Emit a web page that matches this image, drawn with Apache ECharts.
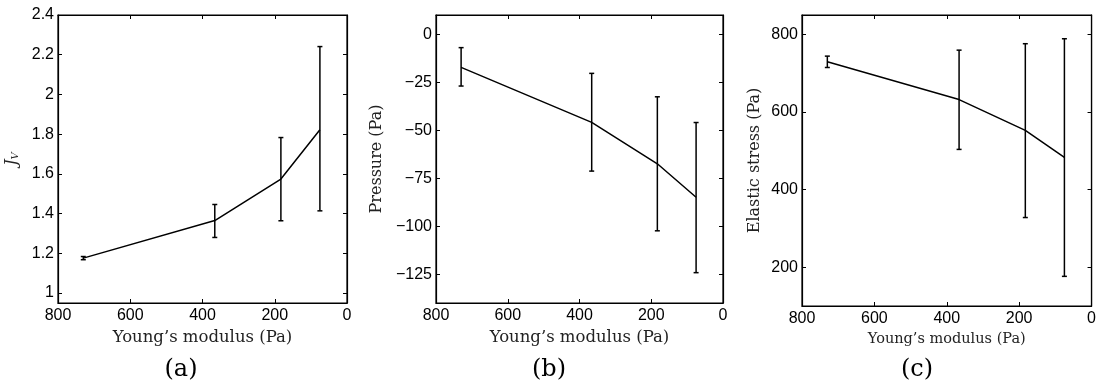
<!DOCTYPE html>
<html>
<head>
<meta charset="utf-8">
<script src="https://cdn.jsdelivr.net/npm/echarts@6/dist/echarts.min.js"></script>
<style>
html,body{margin:0;padding:0;background:#fff;}
#chart{width:1099px;height:389px;}
</style>
</head>
<body>
<div id="chart"></div>
<script>
// ---- data ----
const modulus = [730, 366, 183, 75];
const jvMean = [1.176, 1.365, 1.574, 1.822];
const jvLow  = [1.168, 1.280, 1.364, 1.414];
const jvHigh = [1.184, 1.446, 1.783, 2.241];
const pMean = [-17.3, -45.9, -67.5, -84.9];
const pLow  = [-27.0, -71.3, -102.4, -124.2];
const pHigh = [-7.0, -20.4, -32.6, -46.0];
const sMean = [729.5, 632, 552.7, 482.9];
const sLow  = [714.7, 503.6, 328, 176.4];
const sHigh = [744, 759.4, 776, 788.8];
const xTicks = [0, 200, 400, 600, 800];
const jvTicks = [1, 1.2, 1.4, 1.6, 1.8, 2, 2.2, 2.4];
const pTicks = [0, -25, -50, -75, -100, -125];
const sTicks = [200, 400, 600, 800];
const xTitle = 'Young\u2019s modulus (Pa)';
const panelLabels = ['(a)', '(b)', '(c)'];

const sans = 'Liberation Sans';
const serif = 'DejaVu Serif';

const grids = [
  {left: 58, top: 15, width: 289, height: 288},
  {left: 436, top: 15, width: 287, height: 288},
  {left: 802, top: 15, width: 290, height: 291}
];

const xAxes = [], yAxes = [];
function addAxes(g, yMin, yMax, yT, yName, yGap, xNameSize, yNameSize, xGap) {
  const tick = {show: true, inside: true, length: 4, lineStyle: {color: '#000', width: 1}};
  const line = {show: true, onZero: false, lineStyle: {color: '#000', width: 1.2}};
  xAxes.push({
    type: 'value', gridIndex: g, min: 0, max: 800, interval: 200, inverse: true,
    position: 'bottom', axisLine: line, axisTick: tick, splitLine: {show: false},
    axisLabel: {color: '#000', fontSize: 16, fontFamily: sans, margin: 5},
    name: xTitle, nameLocation: 'middle', nameGap: xGap,
    nameTextStyle: {color: '#222', fontSize: xNameSize, fontFamily: serif}
  });
  xAxes.push({
    type: 'value', gridIndex: g, min: 0, max: 800, interval: 200, inverse: true,
    position: 'top', axisLine: line, axisTick: tick, splitLine: {show: false},
    axisLabel: {show: false}
  });
  yAxes.push({
    type: 'value', gridIndex: g, min: yMin, max: yMax, position: 'left',
    axisLine: line, axisTick: Object.assign({customValues: yT}, tick), splitLine: {show: false},
    axisLabel: {customValues: yT, color: '#000', fontSize: 16, fontFamily: sans, margin: 4,
      formatter: v => String(v).replace('-', '\u2212')},
    name: yName, nameLocation: 'middle', nameGap: yGap,
    nameTextStyle: {color: '#222', fontSize: yNameSize, fontFamily: serif,
      rich: {j: {fontStyle: 'italic', fontSize: yNameSize + 1, fontFamily: serif, color: '#222'},
             s: {fontStyle: 'italic', fontSize: yNameSize - 5, fontFamily: serif, color: '#222', verticalAlign: 'bottom', padding: [6, 0, 0, 0]}}}
  });
  yAxes.push({
    type: 'value', gridIndex: g, min: yMin, max: yMax, position: 'right',
    axisLine: line, axisTick: Object.assign({customValues: yT}, tick), splitLine: {show: false},
    axisLabel: {show: false}
  });
}
addAxes(0, 0.95, 2.4, jvTicks, '{j|J}{s|V}', 38, 16.5, 15, 20);
addAxes(1, -140, 10, pTicks, 'Pressure (Pa)', 51, 16.5, 16, 20);
addAxes(2, 100, 850, sTicks, 'Elastic stress (Pa)', 39, 14.5, 16, 21);

function errRender(params, api) {
  const x = api.value(0), lo = api.value(1), hi = api.value(2);
  const a = api.coord([x, lo]), b = api.coord([x, hi]);
  const w = 2.5;
  const st = {stroke: '#000', lineWidth: 1.5};
  return {type: 'group', children: [
    {type: 'line', shape: {x1: a[0], y1: a[1], x2: b[0], y2: b[1]}, style: st},
    {type: 'line', shape: {x1: a[0] - w, y1: a[1], x2: a[0] + w, y2: a[1]}, style: st},
    {type: 'line', shape: {x1: b[0] - w, y1: b[1], x2: b[0] + w, y2: b[1]}, style: st}
  ]};
}

const means = [jvMean, pMean, sMean], lows = [jvLow, pLow, sLow], highs = [jvHigh, pHigh, sHigh];
const series = [];
for (let g = 0; g < 3; g++) {
  series.push({
    type: 'line', xAxisIndex: 2 * g, yAxisIndex: 2 * g,
    data: modulus.map((m, i) => [m, means[g][i]]),
    showSymbol: false, symbol: 'none', lineStyle: {color: '#000', width: 1.5}, animation: false
  });
  series.push({
    type: 'custom', xAxisIndex: 2 * g, yAxisIndex: 2 * g,
    data: modulus.map((m, i) => [m, lows[g][i], highs[g][i]]),
    encode: {x: 0, y: [1, 2]}, renderItem: errRender, animation: false
  });
}

const labelX = [181, 549, 917];
const chart = echarts.init(document.getElementById('chart'));
chart.setOption({
  backgroundColor: '#fff',
  animation: false,
  grid: grids.map(g => Object.assign({show: true, borderColor: '#000', borderWidth: 1.2, backgroundColor: 'transparent'}, g)),
  xAxis: xAxes,
  yAxis: yAxes,
  series: series,
  graphic: panelLabels.map((t, i) => ({
    type: 'text', x: labelX[i], y: 370,
    style: {text: t, fill: '#000', font: '24px "DejaVu Serif"', textAlign: 'center', textVerticalAlign: 'middle'}
  }))
});
</script>
</body>
</html>
